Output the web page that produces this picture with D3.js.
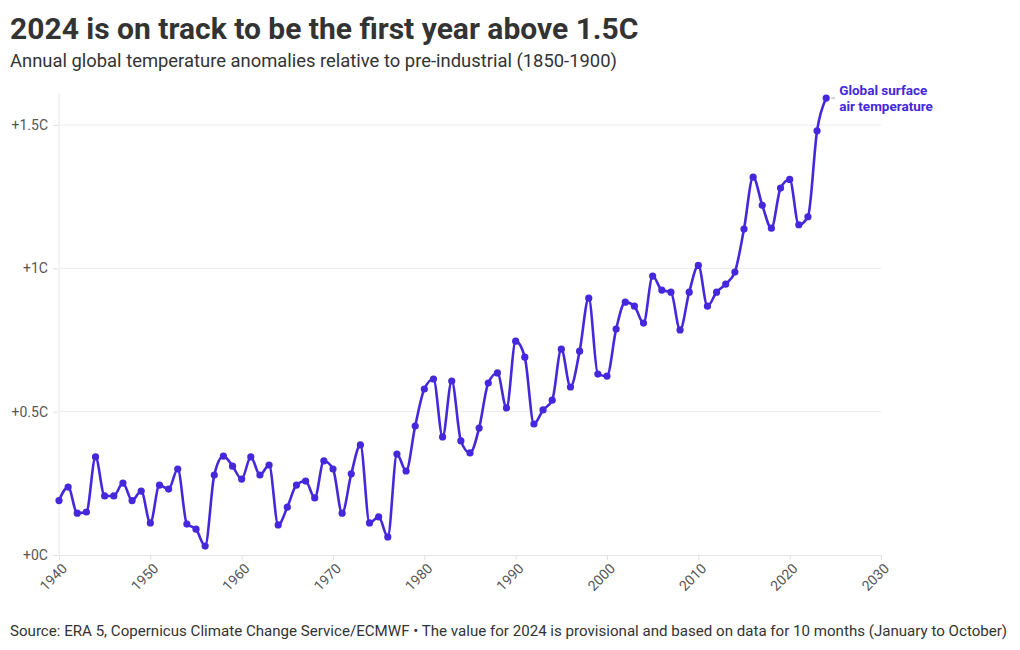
<!DOCTYPE html>
<html>
<head>
<meta charset="utf-8">
<script src="https://cdn.jsdelivr.net/npm/d3@7"></script>
<style>
  html, body { margin: 0; padding: 0; background: #fff; }
  svg { display: block; font-family: Roboto, "Noto Sans", sans-serif; }
</style>
</head>
<body>
<svg id="chart" width="1020" height="650"></svg>
<script>
const years = d3.range(1940, 2025);
const anomalies = [
  0.19, 0.237, 0.146, 0.15, 0.342, 0.206, 0.206, 0.251, 0.19, 0.223,
  0.112, 0.244, 0.23, 0.30, 0.108, 0.09, 0.031, 0.279, 0.345, 0.31,
  0.265, 0.342, 0.279, 0.314, 0.105, 0.167, 0.244, 0.258, 0.199, 0.328,
  0.30, 0.146, 0.283, 0.384, 0.112, 0.133, 0.063, 0.352, 0.293, 0.45,
  0.579, 0.614, 0.412, 0.607, 0.398, 0.356, 0.443, 0.60, 0.635, 0.513,
  0.746, 0.69, 0.457, 0.506, 0.54, 0.718, 0.586, 0.711, 0.896, 0.631,
  0.624, 0.788, 0.882, 0.868, 0.809, 0.973, 0.924, 0.917, 0.785, 0.917,
  1.01, 0.868, 0.917, 0.945, 0.987, 1.137, 1.318, 1.22, 1.14, 1.28,
  1.31, 1.152, 1.18, 1.48, 1.594
];
const xTicks = [1940, 1950, 1960, 1970, 1980, 1990, 2000, 2010, 2020, 2030];
const yTicks = [0, 0.5, 1, 1.5];
const yTickLabels = ["+0C", "+0.5C", "+1C", "+1.5C"];
const seriesLabel = ["Global surface", "air temperature"];
const title = "2024 is on track to be the first year above 1.5C";
const subtitle = "Annual global temperature anomalies relative to pre-industrial (1850-1900)";
const source = "Source: ERA 5, Copernicus Climate Change Service/ECMWF \u2022 The value for 2024 is provisional and based on data for 10 months (January to October)";

(function () {
const data = years.map((yr, i) => ({ year: yr, value: anomalies[i] }));
const color = "#4527dc";

const svg = d3.select("#chart");
const plotLeft = 59, plotRight = 881, plotTop = 93, plotBottom = 555;

const x = d3.scaleLinear().domain([1940, 2030]).range([plotLeft, plotRight]);
const y = d3.scaleLinear().domain([0, 1.5]).range([plotBottom, 125]);

svg.append("text").attr("x", 10).attr("y", 39)
  .attr("font-size", 30).attr("font-weight", 700).attr("fill", "#333").text(title);
svg.append("text").attr("x", 10).attr("y", 67)
  .attr("font-size", 18.4).attr("fill", "#333").text(subtitle);
svg.append("text").attr("x", 10).attr("y", 636)
  .attr("font-size", 15.1).attr("fill", "#333").text(source);

svg.append("g").selectAll("line").data(yTicks.slice(1)).join("line")
  .attr("x1", plotLeft).attr("x2", plotRight)
  .attr("y1", d => y(d)).attr("y2", d => y(d))
  .attr("stroke", "#ebebeb").attr("stroke-width", 1);

svg.append("line").attr("x1", plotLeft).attr("x2", plotLeft).attr("y1", plotTop).attr("y2", plotBottom)
  .attr("stroke", "#e6e6e6");

const yAxis = d3.axisLeft(y).tickValues(yTicks)
  .tickFormat((d, i) => yTickLabels[i]).tickSize(5).tickPadding(5);
const gy = svg.append("g").attr("transform", `translate(${plotLeft - 1},0)`).call(yAxis);
gy.select(".domain").remove();
gy.selectAll(".tick line").attr("stroke", "#e0e0e0");
gy.selectAll(".tick text").attr("font-size", 14).attr("fill", "#555")
  .attr("font-family", "Roboto, sans-serif");

const xAxis = d3.axisBottom(x).tickValues(xTicks).tickFormat(d3.format("d")).tickSize(5).tickPadding(4);
const gx = svg.append("g").attr("transform", `translate(0,${plotBottom})`).call(xAxis);
gx.select(".domain").attr("stroke", "#e6e6e6");
gx.selectAll(".tick line").attr("stroke", "#e0e0e0");
gx.selectAll(".tick text").attr("font-size", 14).attr("fill", "#555")
  .attr("font-family", "Roboto, sans-serif")
  .attr("text-anchor", "end")
  .attr("x", 0).attr("y", 0).attr("dx", 0).attr("dy", "0.35em")
  .attr("transform", "translate(5,11) rotate(-45)");

const line = d3.line().x(d => x(d.year)).y(d => y(d.value)).curve(d3.curveMonotoneX);
svg.append("path").datum(data).attr("d", line)
  .attr("fill", "none").attr("stroke", color).attr("stroke-width", 2.6)
  .attr("stroke-linejoin", "round");

svg.append("g").selectAll("circle").data(data).join("circle")
  .attr("cx", d => x(d.year)).attr("cy", d => y(d.value)).attr("r", 3.6)
  .attr("fill", color);

const last = data[data.length - 1];
svg.append("line")
  .attr("x1", x(last.year) + 5).attr("x2", x(last.year) + 9)
  .attr("y1", y(last.value)).attr("y2", y(last.value))
  .attr("stroke", "#aaa").attr("stroke-width", 1);
const lab = svg.append("text").attr("x", x(last.year) + 13).attr("y", y(last.value) - 3)
  .attr("font-size", 13.5).attr("font-weight", 700).attr("fill", color);
lab.selectAll("tspan").data(seriesLabel).join("tspan")
  .attr("x", x(last.year) + 13).attr("dy", (d, i) => i === 0 ? 0 : 15.8).text(d => d);
})();
</script>
</body>
</html>
